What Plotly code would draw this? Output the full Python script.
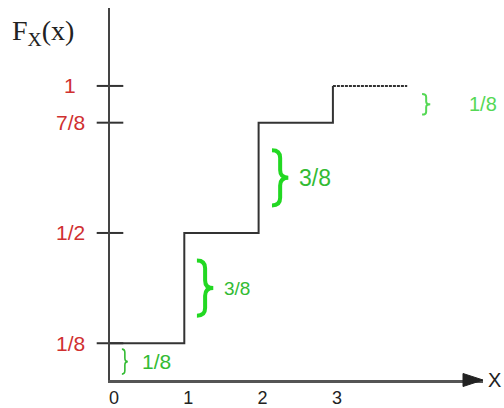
import plotly.graph_objects as go
from fractions import Fraction

# Discrete random variable X: values and their probabilities
x_values = [0, 1, 2, 3]
probabilities = [Fraction(1, 8), Fraction(3, 8), Fraction(3, 8), Fraction(1, 8)]
x_tick_labels = ["0", "1", "2", "3"]
y_tick_labels = ["1/8", "1/2", "7/8", "1"]
x_last = 4  # where the final flat piece of F_X stops

# cumulative distribution F_X at each jump
cdf = []
running = Fraction(0)
for p in probabilities:
    running += p
    cdf.append(running)
cdf_f = [float(v) for v in cdf]

# layout geometry (pixels)
W, H = 504, 408
ML, MR, MT, MB = 110, 21, 8, 28
PW, PH = W - ML - MR, H - MT - MB
X_MAX = 5.02
Y_MAX = 1.265


def px_to_paper_x(px):
    return (px - ML) / PW


def px_to_paper_y(py):
    return (H - MB - py) / PH


LINE = "#333333"
RED = "#d03030"
GREEN_TXT = "#33bb33"
GREEN_BRACE = "#22d822"
GREEN_LIGHT = "#55d855"

fig = go.Figure()

# staircase of F_X
fig.add_trace(go.Scatter(
    x=x_values, y=cdf_f, mode="lines", line_shape="hv",
    line=dict(color=LINE, width=2), hoverinfo="skip", showlegend=False,
))
fig.add_trace(go.Scatter(
    x=[x_values[-1], x_last], y=[cdf_f[-1], cdf_f[-1]], mode="lines",
    line=dict(color=LINE, width=2, dash="3px,1px"), hoverinfo="skip", showlegend=False,
))

# tick marks crossing the vertical axis
fig.add_trace(go.Scatter(
    x=[0] * len(cdf_f), y=cdf_f, mode="markers", cliponaxis=False,
    marker=dict(symbol="line-ew", size=19, line=dict(color=LINE, width=2)),
    hoverinfo="skip", showlegend=False,
))


def brace_path(x0, w, yc, h):
    xm, x1 = x0 + w / 2, x0 + w
    yt, yb = yc + h, yc - h
    d = h * 0.28
    return (f"M{x0},{yt} Q{xm},{yt} {xm},{yt - d} L{xm},{yc + d} "
            f"Q{xm},{yc} {x1},{yc} Q{xm},{yc} {xm},{yc - d} "
            f"L{xm},{yb + d} Q{xm},{yb} {x0},{yb}")


# braces marking each jump, with its size
brace_x = [0.16, 1.17, 2.18, 4.20]
brace_w = [0.08, 0.22, 0.22, 0.11]
brace_frac = [0.34, 0.25, 0.25, 0.28]
brace_lw = [1.6, 4, 4, 2]
brace_col = [GREEN_TXT, GREEN_BRACE, GREEN_BRACE, GREEN_LIGHT]
label_x = [0.40, 1.51, 2.52, 4.80]
label_size = [21, 19, 23, 20]
label_col = [GREEN_TXT, GREEN_TXT, GREEN_TXT, GREEN_LIGHT]

shapes = []
annotations = []
prev = Fraction(0)
for i, (p, top) in enumerate(zip(probabilities, cdf)):
    mid = float(prev + top) / 2
    half = float(p) * brace_frac[i]
    shapes.append(dict(
        type="path", xref="x", yref="y",
        path=brace_path(brace_x[i], brace_w[i], mid, half),
        line=dict(color=brace_col[i], width=brace_lw[i]),
    ))
    annotations.append(dict(
        x=label_x[i], y=mid, xref="x", yref="y", xanchor="left", yanchor="middle",
        text=str(p), showarrow=False,
        font=dict(family="Liberation Sans", size=label_size[i], color=label_col[i]),
    ))
    prev = top

# arrow head on the horizontal axis
shapes.append(dict(
    type="path", xref="paper", yref="paper",
    xsizemode="pixel", ysizemode="pixel", xanchor=1, yanchor=0,
    path="M-20,-6.5 L0,0 L-20,6.5 Z",
    fillcolor="#222222", line=dict(color="#222222", width=1),
))

# red fraction labels on the vertical axis
for v, lab in zip(cdf_f, y_tick_labels):
    annotations.append(dict(
        x=px_to_paper_x(70), y=v, xref="paper", yref="y",
        xanchor="center", yanchor="middle", text=lab, showarrow=False,
        font=dict(family="Liberation Sans", size=21, color=RED),
    ))

# axis titles
annotations.append(dict(
    x=px_to_paper_x(10), y=px_to_paper_y(32), xref="paper", yref="paper",
    xanchor="left", yanchor="middle", text="F<sub>X</sub>(x)", showarrow=False,
    font=dict(family="Liberation Serif", size=28, color="#222222"),
))
annotations.append(dict(
    x=px_to_paper_x(486), y=0, xref="paper", yref="y",
    xanchor="left", yanchor="middle", text="X", showarrow=False,
    font=dict(family="Liberation Sans", size=20, color="#222222"),
))

fig.update_layout(
    width=W, height=H,
    margin=dict(l=ML, r=MR, t=MT, b=MB, pad=0, autoexpand=False),
    paper_bgcolor="white", plot_bgcolor="white",
    showlegend=False, hovermode=False,
    shapes=shapes, annotations=annotations,
    xaxis=dict(
        range=[0, X_MAX], showgrid=False, zeroline=False, automargin=False,
        showline=True, linecolor="#555555", linewidth=2.5,
        tickvals=x_values, ticktext=x_tick_labels, ticks="",
        ticklabelshift=4, ticklabelstandoff=0,
        tickfont=dict(family="Liberation Sans", size=18, color="#222222"),
        fixedrange=True,
    ),
    yaxis=dict(
        range=[0, Y_MAX], showgrid=False, zeroline=False, automargin=False,
        showline=True, linecolor="#444444", linewidth=2,
        showticklabels=False, ticks="", fixedrange=True,
    ),
)

fig.write_html("out.html", config={"displayModeBar": False})
